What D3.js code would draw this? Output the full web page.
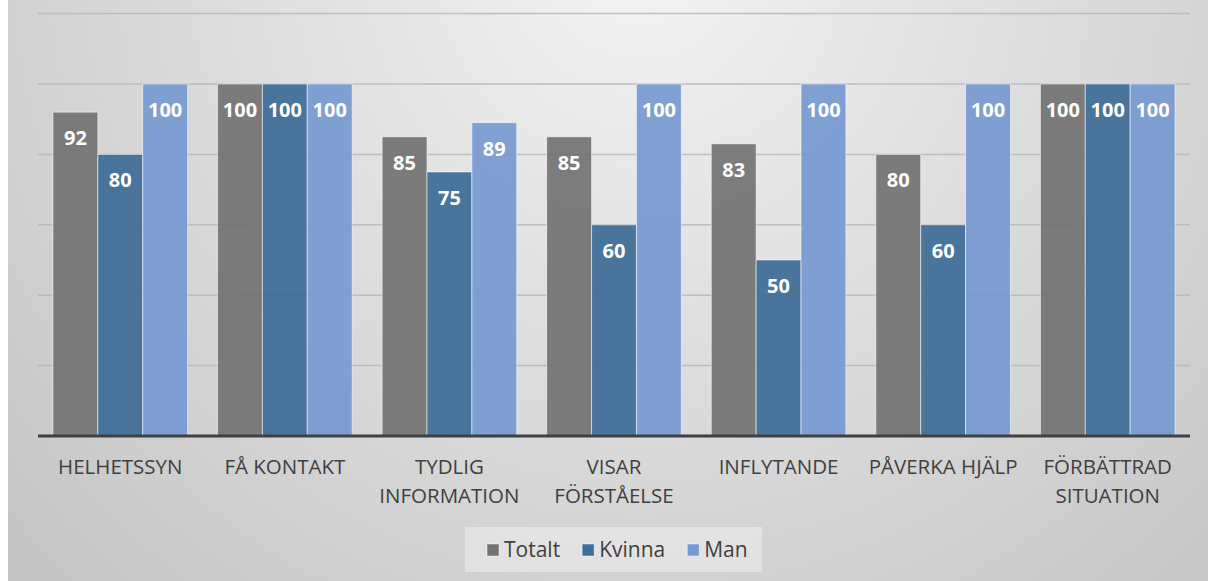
<!DOCTYPE html>
<html>
<head>
<meta charset="utf-8">
<script src="https://cdn.jsdelivr.net/npm/d3@7"></script>
<style>
  html, body { margin: 0; padding: 0; background: #fff; }
  svg { display: block; font-family: "Open Sans", "DejaVu Sans", sans-serif; }
</style>
</head>
<body>
<svg id="chart" width="1208" height="581"></svg>
<script>
// chart data
var categories = ["HELHETSSYN", "FÅ KONTAKT", "TYDLIG INFORMATION", "VISAR FÖRSTÅELSE",
                  "INFLYTANDE", "PÅVERKA HJÄLP", "FÖRBÄTTRAD SITUATION"];
var seriesNames = ["Totalt", "Kvinna", "Man"];
var totalt = [92, 100, 85, 85, 83, 80, 100];
var kvinna = [80, 100, 75, 60, 50, 60, 100];
var man    = [100, 100, 89, 100, 100, 100, 100];
var yTicks = [20, 40, 60, 80, 100, 120];

var colors = ["#737373", "#3d6d98", "#7799d1"];

var width = 1208, height = 581;
var margins = {left: 38, right: 18, top: 13.6, bottom: 145};

var svg = d3.select("#chart");

// background: light spot near top centre, darker to the corners
var defs = svg.append("defs");
var grad = defs.append("radialGradient")
    .attr("id", "bg")
    .attr("gradientUnits", "userSpaceOnUse")
    .attr("cx", 640).attr("cy", -40)
    .attr("r", 900);
grad.append("stop").attr("offset", "0%").attr("stop-color", "#f3f3f3");
grad.append("stop").attr("offset", "100%").attr("stop-color", "#c3c3c3");

svg.append("rect")
    .attr("x", 8).attr("y", 0)
    .attr("width", width - 8).attr("height", height)
    .attr("fill", "url(#bg)");

var series = [totalt, kvinna, man];
var rows = categories.map(function(c, i) {
    return {cat: c, vals: series.map(function(s, j) { return {name: seriesNames[j], v: s[i], j: j}; })};
});

var xScale = d3.scaleBand()
    .domain(categories)
    .range([margins.left, width - margins.right])
    .paddingInner(0.182)
    .paddingOuter(0.091);

var xInner = d3.scaleBand()
    .domain(seriesNames)
    .range([0, xScale.bandwidth()]);

var yScale = d3.scaleLinear()
    .domain([0, 120])
    .range([436, margins.top]);

// gridlines
svg.append("g").attr("class", "grid")
    .selectAll("line")
    .data(yTicks)
    .enter().append("line")
    .attr("x1", margins.left)
    .attr("x2", width - margins.right)
    .attr("y1", d => yScale(d))
    .attr("y2", d => yScale(d))
    .attr("stroke", "#b4b4b4")
    .attr("stroke-opacity", 0.8)
    .attr("stroke-width", 1.5);

// bars
var groups = svg.append("g").attr("class", "bars")
    .selectAll("g")
    .data(rows)
    .enter().append("g")
    .attr("transform", d => "translate(" + xScale(d.cat) + ",0)");

groups.selectAll("rect")
    .data(d => d.vals)
    .enter().append("rect")
    .attr("x", d => xInner(d.name))
    .attr("width", xInner.bandwidth())
    .attr("y", d => yScale(d.v))
    .attr("height", d => yScale(0) - yScale(d.v))
    .attr("fill", d => colors[d.j])
    .attr("fill-opacity", 0.93)
    .attr("stroke", "rgba(255,255,255,0.55)")
    .attr("stroke-width", 1);

groups.selectAll("text")
    .data(d => d.vals)
    .enter().append("text")
    .attr("x", d => xInner(d.name) + xInner.bandwidth() / 2)
    .attr("y", d => yScale(d.v) + 33)
    .attr("text-anchor", "middle")
    .attr("fill", "#ffffff")
    .attr("font-weight", "bold")
    .attr("font-size", "20px")
    .text(d => d.v);

// baseline
svg.append("line")
    .attr("x1", margins.left)
    .attr("x2", width - margins.right)
    .attr("y1", yScale(0))
    .attr("y2", yScale(0))
    .attr("stroke", "#404040")
    .attr("stroke-width", 3);

// category labels (wrapped to band width)
var xAxis = svg.append("g").attr("class", "xAxis");
categories.forEach(function(c) {
    var t = xAxis.append("text")
        .attr("text-anchor", "middle")
        .attr("fill", "#404040")
        .attr("font-size", "20.5px")
        .attr("y", 474);
    var cx = xScale(c) + xScale.bandwidth() / 2;
    var words = c.split(" "), line = [], lineNo = 0;
    var tspan = t.append("tspan").attr("x", cx).attr("y", 474);
    words.forEach(function(w) {
        line.push(w);
        tspan.text(line.join(" "));
        if (tspan.node().getComputedTextLength() > xScale.step() - 4 && line.length > 1) {
            line.pop();
            tspan.text(line.join(" "));
            line = [w];
            lineNo++;
            tspan = t.append("tspan").attr("x", cx).attr("y", 474 + lineNo * 29).text(w);
        }
    });
});

// legend
var legend = svg.append("g").attr("class", "legend");
legend.append("rect")
    .attr("x", 465).attr("y", 527)
    .attr("width", 297).attr("height", 45)
    .attr("fill", "#ffffff").attr("fill-opacity", 0.35);

var lx = 487;
seriesNames.forEach(function(n, j) {
    legend.append("rect")
        .attr("x", lx).attr("y", 544)
        .attr("width", 12).attr("height", 12)
        .attr("fill", colors[j])
        .attr("stroke", "rgba(255,255,255,0.6)").attr("stroke-width", 0.8);
    var t = legend.append("text")
        .attr("x", lx + 17).attr("y", 557)
        .attr("fill", "#404040")
        .attr("font-size", "21px")
        .text(n);
    lx += 17 + t.node().getComputedTextLength() + 22;
});
</script>
</body>
</html>
